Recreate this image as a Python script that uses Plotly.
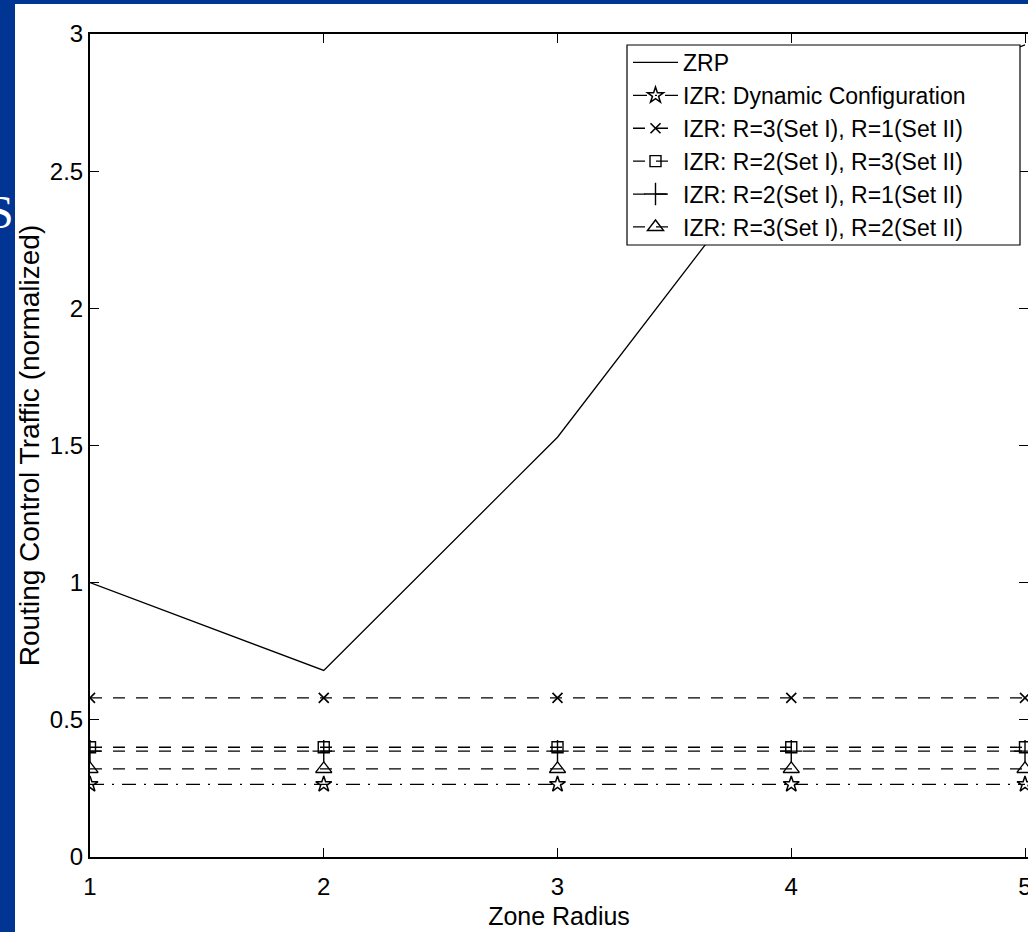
import plotly.graph_objects as go

zone_radius = [1, 2, 3, 4, 5]
zrp = [1.0, 0.68, 1.53, 2.64, 2.96]
izr_dynamic = [0.265, 0.265, 0.265, 0.265, 0.265]
izr_r3_r1 = [0.58, 0.58, 0.58, 0.58, 0.58]
izr_r2_r3 = [0.40, 0.40, 0.40, 0.40, 0.40]
izr_r2_r1 = [0.386, 0.386, 0.386, 0.386, 0.386]
izr_r3_r2 = [0.321, 0.321, 0.321, 0.321, 0.321]

x_ticks = [1, 2, 3, 4, 5]
y_ticks = [0, 0.5, 1, 1.5, 2, 2.5, 3]
y_tick_text = ["0", "0.5", "1", "1.5", "2", "2.5", "3"]

W, H = 1028, 932
L, R, T, B = 90, 0, 34, 75
pw = W - L - R
ph = H - T - B


def px_x(p):
    return (p - L) / pw


def px_y(p):
    return (H - B - p) / ph


fig = go.Figure()
black = "black"
lw = 1.3
dash = "12px,11px"

fig.add_trace(go.Scatter(x=zone_radius, y=zrp, mode="lines", name="ZRP",
                         line=dict(color=black, width=lw)))
fig.add_trace(go.Scatter(x=zone_radius, y=izr_dynamic, mode="lines+markers",
                         name="IZR: Dynamic Configuration",
                         line=dict(color=black, width=lw, dash="14px,8px,2px,8px"),
                         marker=dict(symbol="star-open", size=12, color=black, line=dict(width=1.5, color=black))))
fig.add_trace(go.Scatter(x=zone_radius, y=izr_r3_r1, mode="lines+markers",
                         name="IZR: R=3(Set I), R=1(Set II)",
                         line=dict(color=black, width=lw, dash=dash),
                         marker=dict(symbol="x-thin-open", size=10, color=black, line=dict(width=1.6, color=black))))
fig.add_trace(go.Scatter(x=zone_radius, y=izr_r2_r3, mode="lines+markers",
                         name="IZR: R=2(Set I), R=3(Set II)",
                         line=dict(color=black, width=lw, dash=dash),
                         marker=dict(symbol="square-open", size=11, color=black, line=dict(width=1.4, color=black))))
fig.add_trace(go.Scatter(x=zone_radius, y=izr_r2_r1, mode="lines+markers",
                         name="IZR: R=2(Set I), R=1(Set II)",
                         line=dict(color=black, width=lw, dash=dash),
                         marker=dict(symbol="cross-thin-open", size=16, color=black, line=dict(width=1.4, color=black))))
fig.add_trace(go.Scatter(x=zone_radius, y=izr_r3_r2, mode="lines+markers",
                         name="IZR: R=3(Set I), R=2(Set II)",
                         line=dict(color=black, width=lw, dash=dash),
                         marker=dict(symbol="triangle-up-open", size=14, color=black, line=dict(width=1.4, color=black))))

fig.update_layout(
    width=W, height=H,
    margin=dict(l=L, r=R, t=T, b=B, autoexpand=False),
    paper_bgcolor="#003594",
    plot_bgcolor="white",
    font=dict(family="Liberation Sans, Arial, sans-serif", color="black", size=24),
    showlegend=True,
    legend=dict(x=px_x(628), y=px_y(41), xanchor="left", yanchor="top",
                bgcolor="rgba(0,0,0,0)", borderwidth=0,
                font=dict(size=23, family="Liberation Sans, Arial, sans-serif"),
                tracegroupgap=0, itemwidth=45),
    shapes=[
        dict(type="rect", xref="paper", yref="paper",
             x0=px_x(15), x1=1.2, y0=-0.2, y1=px_y(4),
             fillcolor="white", line=dict(width=0), layer="below"),
        dict(type="rect", xref="paper", yref="paper",
             x0=px_x(627), x1=px_x(1020), y0=px_y(245), y1=px_y(45),
             fillcolor="white", line=dict(width=1.2, color=black), layer="above"),
    ],
    annotations=[dict(text="S", xref="paper", yref="paper",
                      x=px_x(16), y=px_y(213), xanchor="right", yanchor="middle",
                      showarrow=False, font=dict(family="Liberation Serif, serif", size=46, color="white"))],
)

fig.update_xaxes(range=[1, 5.0128], tickvals=x_ticks, ticktext=[str(v) for v in x_ticks],
                 ticks="inside", ticklen=9, tickwidth=1.3, tickcolor=black,
                 showline=True, linecolor=black, linewidth=2, mirror="ticks",
                 showgrid=False, zeroline=False, automargin=False,
                 ticklabeloverflow="allow", ticklabelstandoff=7,
                 tickfont=dict(size=24),
                 title=dict(text="Zone Radius", font=dict(size=25), standoff=9))
fig.update_yaxes(range=[0, 3], tickvals=y_ticks, ticktext=y_tick_text,
                 ticks="inside", ticklen=9, tickwidth=1.3, tickcolor=black,
                 showline=True, linecolor=black, linewidth=2, mirror="ticks",
                 showgrid=False, zeroline=False, automargin=False,
                 tickfont=dict(size=24),
                 title=dict(text="Routing Control Traffic (normalized)", font=dict(size=28), standoff=2))

fig.write_html("out.html", config={"displayModeBar": False},
               post_script="document.body.style.margin='0';document.body.style.overflow='hidden';")
